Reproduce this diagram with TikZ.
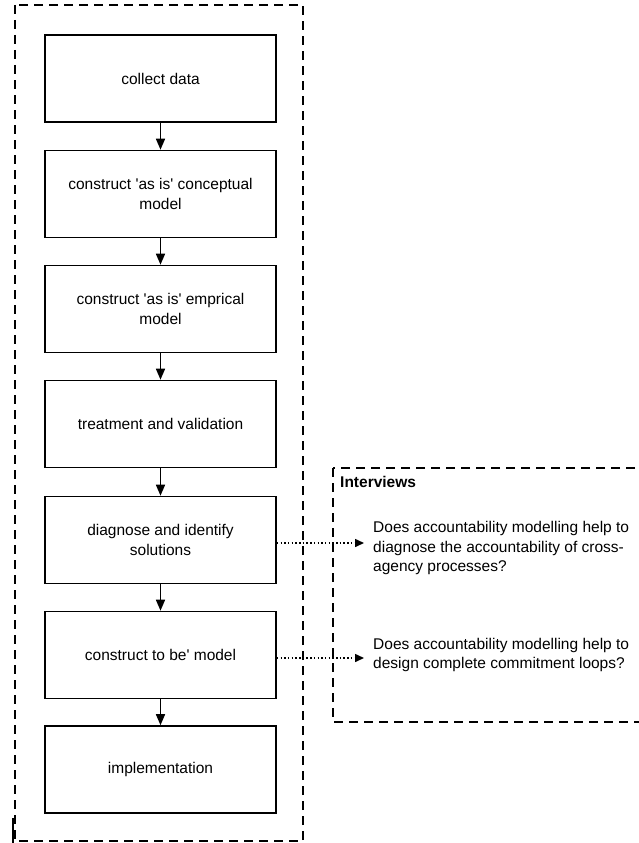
\documentclass[tikz,border=0pt]{standalone}
\usepackage{fontspec}
\setmainfont{Liberation Sans}[Ligatures=TeXOff]
\usetikzlibrary{arrows.meta}
\begin{document}
\begin{tikzpicture}[x=1pt,y=-1pt,
  stepbox/.style={draw, line width=1.6pt, minimum width=231pt, minimum height=87pt, align=center, inner sep=2pt,
    font=\fontsize{15.5}{19.5}\selectfont},
  flow/.style={line width=1.6pt, -{Triangle[length=11pt,width=9pt]}},
  conn/.style={line width=1.5pt, dash pattern=on 1.5pt off 2.2pt, -{Triangle[length=9pt,width=8pt]}},
  frame/.style={line width=1.4pt, dash pattern=on 9pt off 6pt},
  qtext/.style={anchor=west, align=left, inner sep=0pt, font=\fontsize{15.5}{19.5}\selectfont}
]
\useasboundingbox (0,0) rectangle (639,843);
% outer frame
\draw[frame] (15,5) rectangle (303,841);
\draw[line width=2.6pt] (13,818) -- (13,843);
% steps
\node[stepbox] (b1) at (160.5,78.5) {collect data};
\node[stepbox] (b2) at (160.5,194) {construct 'as is' conceptual\\model};
\node[stepbox] (b3) at (160.5,309) {construct 'as is' emprical\\model};
\node[stepbox] (b4) at (160.5,424) {treatment and validation};
\node[stepbox] (b5) at (160.5,540) {diagnose and identify\\solutions};
\node[stepbox] (b6) at (160.5,655) {construct to be' model};
\node[stepbox] (b7) at (160.5,769.5) {implementation};
\draw[flow] (b1.south) -- (b2.north);
\draw[flow] (b2.south) -- (b3.north);
\draw[flow] (b3.south) -- (b4.north);
\draw[flow] (b4.south) -- (b5.north);
\draw[flow] (b5.south) -- (b6.north);
\draw[flow] (b6.south) -- (b7.north);
% interviews frame
\draw[frame] (333,468) rectangle (665,722);
\node[anchor=west, inner sep=0pt, font=\fontsize{15.5}{19.5}\selectfont\bfseries] (iv) at (340,482) {Interviews};
\node[qtext] (q1) at (373,548) {Does accountability modelling help to\\diagnose the accountability of cross-\\agency processes?};
\node[qtext] (q2) at (373,655) {Does accountability modelling help to\\design complete commitment loops?};
\coordinate (t1) at (364,543);
\coordinate (t2) at (364,658);
\draw[conn] (b5.east |- t1) -- (t1);
\draw[conn] (b6.east |- t2) -- (t2);
\end{tikzpicture}
\end{document}
